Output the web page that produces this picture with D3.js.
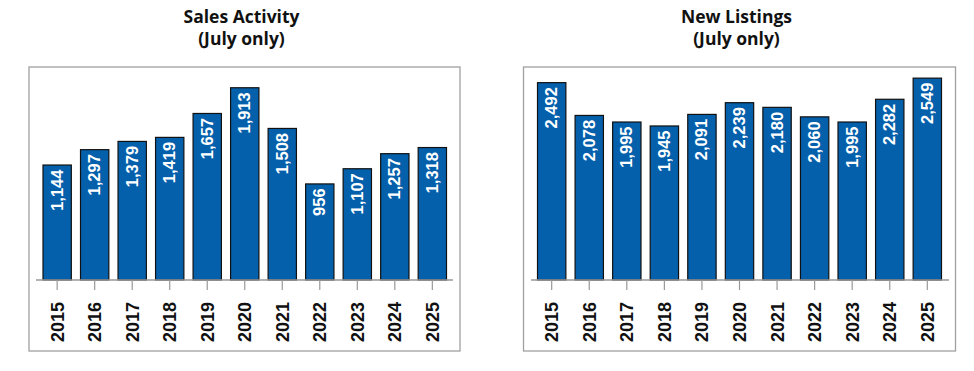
<!DOCTYPE html>
<html><head><meta charset="utf-8">
<script src="https://cdn.jsdelivr.net/npm/d3@7"></script>
<style>body{margin:0;background:#fff}</style>
</head><body>
<svg id="c" width="974" height="371"></svg>
<script>
const years = ["2015","2016","2017","2018","2019","2020","2021","2022","2023","2024","2025"];
const salesActivity = [1144,1297,1379,1419,1657,1913,1508,956,1107,1257,1318];
const newListings = [2492,2078,1995,1945,2091,2239,2180,2060,1995,2282,2549];
const titles = [["Sales Activity","(July only)"],["New Listings","(July only)"]];

const svg = d3.select("#c");
const fmt = d3.format(",");
const BAR = "#0560AC";

const panels = [
  {values: salesActivity, title: titles[0], frame:[29,67,431,284], axis:[36,453], band:[38.5,451], yMax:2000, yTop:79, tx:241.5},
  {values: newListings, title: titles[1], frame:[523.5,67,432,284], axis:[531,949], band:[533,946], yMax:2600, yTop:74.1, tx:736.5}
];

panels.forEach(p => {
  const g = svg.append("g");
  g.append("rect").attr("x",p.frame[0]).attr("y",p.frame[1]).attr("width",p.frame[2]).attr("height",p.frame[3])
    .attr("fill","none").attr("stroke","#a0a0a0").attr("stroke-width",1.3);
  g.append("text").attr("x",p.tx).attr("y",23).attr("text-anchor","middle")
    .attr("font-family","'Open Sans',sans-serif").attr("font-weight",700).attr("font-size",17.5).attr("fill","#111").text(p.title[0]);
  g.append("text").attr("x",p.tx).attr("y",45).attr("text-anchor","middle")
    .attr("font-family","'Open Sans',sans-serif").attr("font-weight",700).attr("font-size",17.5).attr("fill","#111").text(p.title[1]);

  const x = d3.scaleBand().domain(years).range(p.band).paddingInner(0.245).paddingOuter(0.12);
  const y = d3.scaleLinear().domain([0,p.yMax]).range([280,p.yTop]);

  g.selectAll("rect.bar").data(p.values).join("rect").attr("class","bar")
    .attr("x",(d,i)=>x(years[i])).attr("width",x.bandwidth())
    .attr("y",d=>y(d)).attr("height",d=>y(0)-y(d))
    .attr("fill",BAR).attr("stroke","#111").attr("stroke-width",1.2);

  g.selectAll("text.val").data(p.values).join("text").attr("class","val")
    .attr("transform",(d,i)=>`translate(${x(years[i])+x.bandwidth()/2+5.5},${y(d)+4.5}) rotate(-90)`)
    .attr("text-anchor","end").attr("fill","#fff")
    .attr("font-family","'Liberation Sans Narrow','Liberation Sans',sans-serif").attr("font-weight",700).attr("font-size",16.5)
    .text(d=>fmt(d));

  const axis = g.append("g").attr("transform","translate(0,280)")
    .call(d3.axisBottom(x).tickSize(10).tickSizeOuter(0));
  axis.select(".domain").remove();
  g.append("line").attr("x1",p.axis[0]).attr("x2",p.axis[1]).attr("y1",280).attr("y2",280)
    .attr("stroke","#999").attr("stroke-width",1.3);
  axis.selectAll(".tick line").attr("stroke","#999").attr("stroke-width",1.2);
  axis.selectAll(".tick text")
    .attr("transform","rotate(-90)").attr("x",-22).attr("y",0).attr("dy","0.36em")
    .attr("text-anchor","end").attr("fill","#111")
    .attr("font-family","'Liberation Sans',Arial,sans-serif").attr("font-weight",700).attr("font-size",18);
});
</script>
</body></html>
